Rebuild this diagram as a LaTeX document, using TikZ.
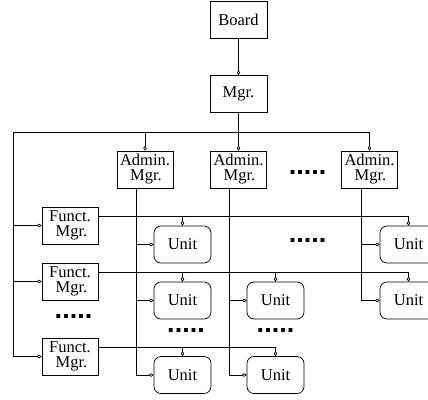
\documentclass[tikz,border=0pt]{standalone}
\usepackage{fontspec}
\setmainfont{Liberation Serif}
\newfontfamily\dotfont{Liberation Sans}
\usetikzlibrary{arrows.meta}
\begin{document}
\begin{tikzpicture}[x=1pt,y=-1pt,
  line width=0.7pt,
  box/.style={draw, rectangle, inner sep=0pt, minimum width=57pt, minimum height=37pt,
    font=\fontsize{16.5}{15}\selectfont, align=center},
  unitbox/.style={box, rounded corners=7pt},
  con/.style={-{Diamond[open,length=5pt,width=3.5pt]}},
  dotrow/.style={inner sep=0pt, font=\dotfont\bfseries\fontsize{27}{27}\selectfont}]
\clip (0,0) rectangle (428,399);
% top
\node[box] (board) at (238.5,19.5) {Board};
\node[box] (mgr) at (238.5,94) {Mgr.};
% admins
\node[box, minimum width=56pt] (admin1) at (145,169.5) {Admin.\\\hspace*{2pt}Mgr.};
\node[box, minimum width=56pt] (admin2) at (238.5,169.5) {Admin.\\\hspace*{2pt}Mgr.};
\node[box, minimum width=56pt] (admin3) at (369.5,169.5) {Admin.\\\hspace*{2pt}Mgr.};
% functs
\node[box, minimum width=56pt] (funct1) at (70,225.5) {Funct.\\\hspace*{3pt}Mgr.};
\node[box, minimum width=56pt] (funct2) at (70,281.5) {Funct.\\\hspace*{3pt}Mgr.};
\node[box, minimum width=56pt] (funct3) at (70,356.5) {Funct.\\\hspace*{3pt}Mgr.};
% units
\node[unitbox] (u11) at (182.5,244.5) {Unit};
\node[unitbox] (u13) at (408.5,244.5) {Unit};
\node[unitbox] (u21) at (182.5,300.5) {Unit};
\node[unitbox] (u22) at (275.5,300.5) {Unit};
\node[unitbox] (u23) at (408.5,300.5) {Unit};
\node[unitbox] (u31) at (182.5,375) {Unit};
\node[unitbox] (u32) at (275.5,375) {Unit};
% dots
\node[dotrow] (d1) at (307.5,172) {.....};
\node[dotrow] (d2) at (307.5,240) {.....};
\node[dotrow] (d3) at (73.5,316) {.....};
\node[dotrow] (d4) at (186,330) {.....};
\node[dotrow] (d5) at (275.5,330) {.....};
% coordinates
\coordinate (barL) at (13,132);
\coordinate (barR) at (369.5,132);
\coordinate (f1) at (98.5,216);
\coordinate (f2) at (98.5,272);
\coordinate (f3) at (98.5,347);
\coordinate (a1) at (136,188);
\coordinate (a2) at (229,188);
\coordinate (a3) at (361,188);
% connectors
\draw[con] (board) -- (mgr);
\draw[con] (mgr) -- (admin2);
\draw (barL) -- (barR);
\draw[con] (barR) -- (admin3);
\draw[con] (admin1 |- barL) -- (admin1);
\draw[con] (barL) |- (funct3.west);
\draw[con] (barL |- funct1) -- (funct1.west);
\draw[con] (barL |- funct2) -- (funct2.west);
\draw[con] (f1) -| (u13.north);
\draw[con] (f1 -| u11) -- (u11);
\draw[con] (f2) -| (u23.north);
\draw[con] (f2 -| u21) -- (u21);
\draw[con] (f2 -| u22) -- (u22);
\draw[con] (f3) -| (u32.north);
\draw[con] (f3 -| u31) -- (u31);
\draw[con] (a1) |- (u31.west);
\draw[con] (a1 |- u11) -- (u11.west);
\draw[con] (a1 |- u21) -- (u21.west);
\draw[con] (a2) |- (u32.west);
\draw[con] (a2 |- u22) -- (u22.west);
\draw[con] (a3) |- (u23.west);
\draw[con] (a3 |- u13) -- (u13.west);
\end{tikzpicture}
\end{document}
